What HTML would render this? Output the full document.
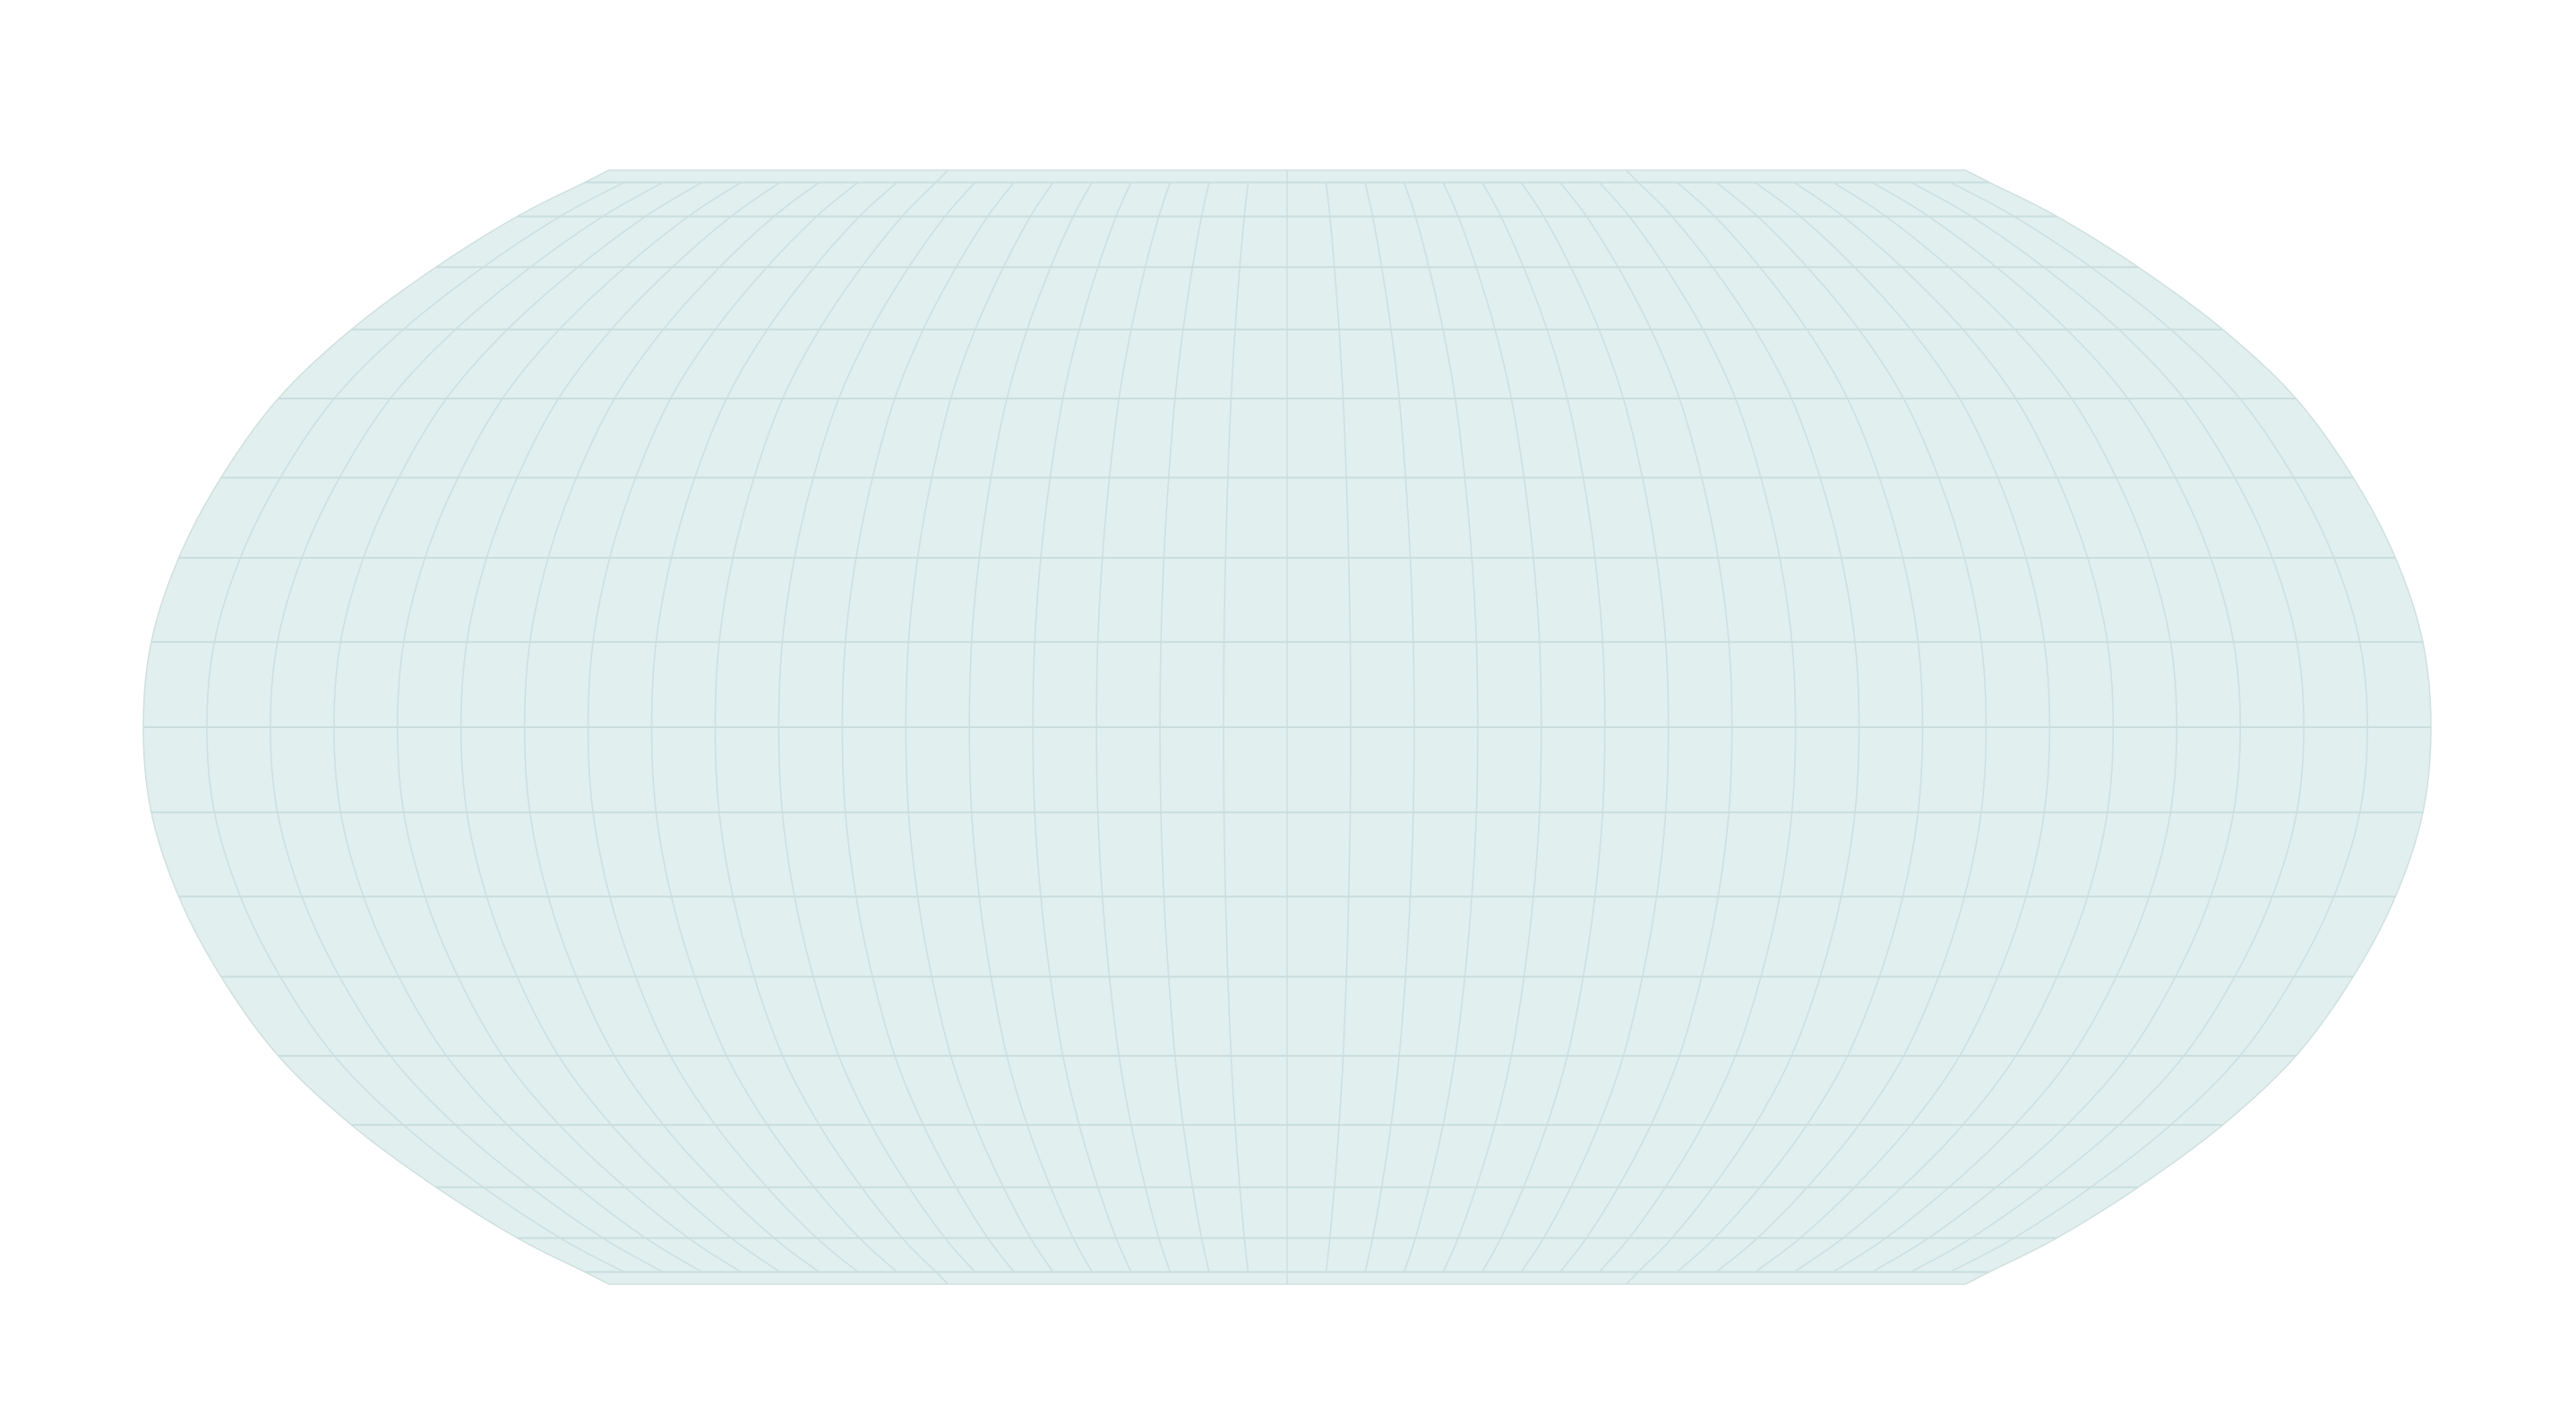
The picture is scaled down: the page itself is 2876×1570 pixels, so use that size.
<!DOCTYPE html>
<html>
<head>
<meta charset="utf-8">
<style>
html,body{margin:0;padding:0;background:#ffffff;}
body{width:2876px;height:1570px;overflow:hidden;font-family:"Liberation Sans",sans-serif;}
svg{display:block;}
</style>
</head>
<body>
<svg id="map" width="2876" height="1570" viewBox="0 0 2876 1570" xmlns="http://www.w3.org/2000/svg">
  <g id="sphere-layer"></g>
  <g id="graticule-layer"></g>
</svg>
<script>
// Projection table (latitude in degrees -> relative north offset and relative half width)
const latitudes = [0, 10, 20, 30, 40, 50, 60, 70, 80, 90];
const yRatio = [0, 0.153, 0.304, 0.448, 0.590, 0.714, 0.826, 0.917, 0.978, 1.0];
const widthRatio = [1.0, 0.993, 0.969, 0.932, 0.882, 0.818, 0.744, 0.673, 0.614, 0.593];
const meridianStep = 10;
const parallelStep = 10;
const minorLatExtent = 80;

const CX = 1437, CY = 812, HALF_W = 1277, HALF_H = 622;
const NS = 'http://www.w3.org/2000/svg';

// symmetric full tables (-90..90)
function fullTable(tbl, odd) {
  const out = [];
  for (let i = tbl.length - 1; i > 0; i--) out.push(odd ? -tbl[i] : tbl[i]);
  return out.concat(tbl);
}
const fullLat = fullTable(latitudes, true);
const fullY = fullTable(yRatio, true);
const fullW = fullTable(widthRatio, false);

function interp(table, lat) {
  let i = 0;
  while (i < fullLat.length - 2 && lat > fullLat[i + 1]) i++;
  const t = (lat - fullLat[i]) / (fullLat[i + 1] - fullLat[i]);
  const n = table.length - 1;
  const p1 = table[i], p2 = table[i + 1];
  const p0 = i > 0 ? table[i - 1] : 2 * p1 - p2;
  const p3 = i + 2 <= n ? table[i + 2] : 2 * p2 - p1;
  const t2 = t * t, t3 = t2 * t;
  return 0.5 * ((2 * p1) + (-p0 + p2) * t + (2 * p0 - 5 * p1 + 4 * p2 - p3) * t2 + (-p0 + 3 * p1 - 3 * p2 + p3) * t3);
}
function project(lon, lat) {
  const x = CX + (lon / 180) * HALF_W * interp(fullW, lat);
  const y = CY - HALF_H * interp(fullY, lat);
  return [x, y];
}
function pathFrom(points) {
  return points.map((p, i) => (i ? 'L' : 'M') + p[0].toFixed(2) + ',' + p[1].toFixed(2)).join('');
}

const sphereLayer = document.getElementById('sphere-layer');
const gratLayer = document.getElementById('graticule-layer');

// sphere outline
const outline = [];
for (let lat = -90; lat <= 90; lat += 1) outline.push(project(-180, lat));
for (let lat = 90; lat >= -90; lat -= 1) outline.push(project(180, lat));
const sphere = document.createElementNS(NS, 'path');
sphere.setAttribute('d', pathFrom(outline) + 'Z');
sphere.setAttribute('fill', '#e1efef');
sphere.setAttribute('stroke', '#cfe0df');
sphere.setAttribute('stroke-width', '1.5');


sphereLayer.appendChild(sphere);

// meridians
for (let lon = -180 + meridianStep; lon < 180; lon += meridianStep) {
  const ext = (lon % 90 === 0) ? 90 : minorLatExtent;
  const pts = [];
  for (let lat = -ext; lat <= ext; lat += 1) pts.push(project(lon, lat));
  const m = document.createElementNS(NS, 'path');
  m.setAttribute('d', pathFrom(pts));
  m.setAttribute('fill', 'none');
  m.setAttribute('stroke', '#cde0df');
  m.setAttribute('stroke-width', '1.6');
  
  
  gratLayer.appendChild(m);
}

// parallels
for (let lat = -minorLatExtent; lat <= minorLatExtent; lat += parallelStep) {
  const pts = [];
  for (let lon = -180; lon <= 180; lon += 2) pts.push(project(lon, lat));
  const p = document.createElementNS(NS, 'path');
  p.setAttribute('d', pathFrom(pts));
  p.setAttribute('fill', 'none');
  p.setAttribute('stroke', '#cadedd');
  p.setAttribute('stroke-width', '2');
  
  
  gratLayer.appendChild(p);
}
</script>
</body>
</html>
